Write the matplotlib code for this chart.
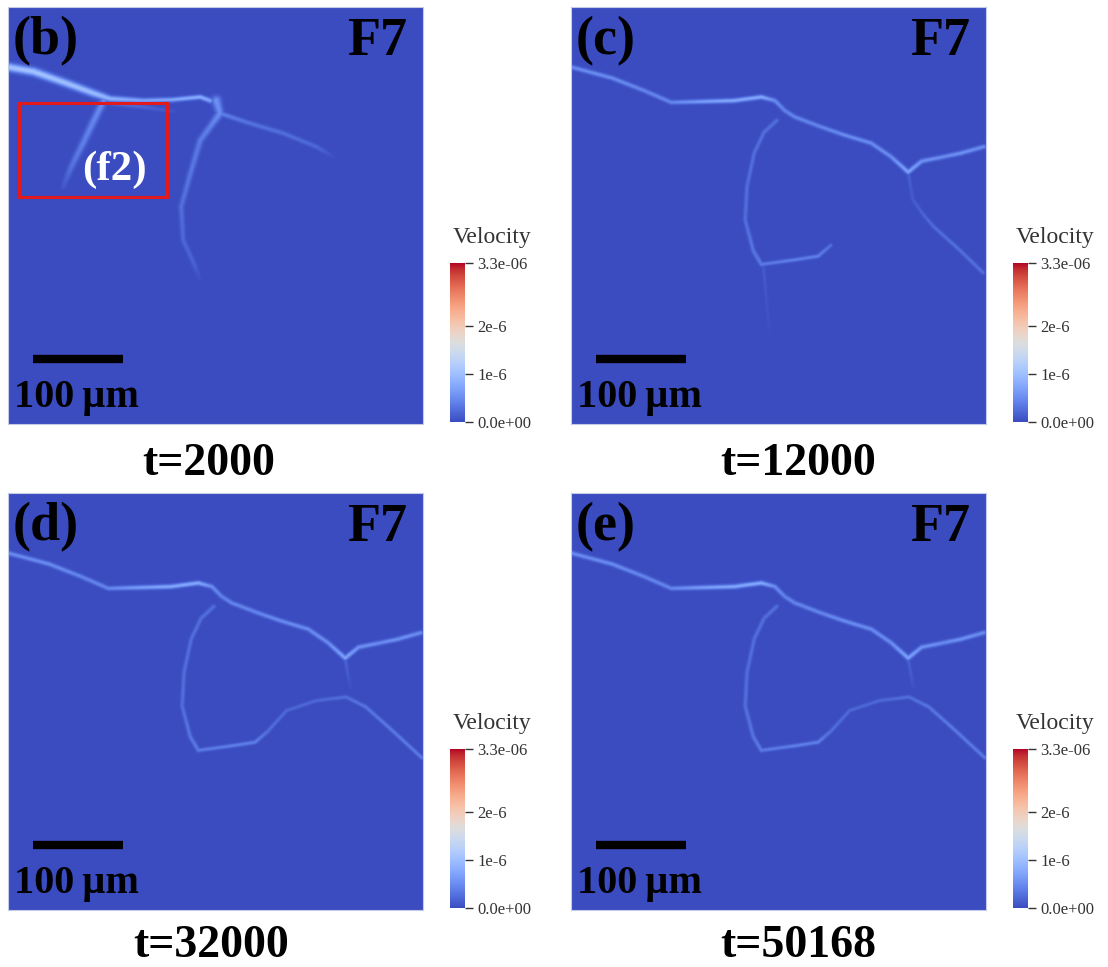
import numpy as np
import matplotlib.pyplot as plt
from matplotlib.patches import Rectangle

# ---- data ------------------------------------------------------------------
L = 460.0                       # domain size (um)
vmax = 3.3e-6                   # colour range upper limit
times = ['t=2000', 't=12000', 't=32000', 't=50168']
panel_tags = ['(b)', '(c)', '(d)', '(e)']
cbar_ticks = [0.0, 1e-6, 2e-6, 3.3e-6]
cbar_labels = ['0.0e+00', '1e-6', '2e-6', '3.3e-06']

# crack paths: x (um), y (um, from top), peak velocity (1e-6), half width (um)
# t = 2000
b_main_x = [0, 28, 65, 95, 113, 150, 183, 213, 224]
b_main_y = [66, 71, 84, 95, 101, 103, 102, 99, 103]
b_main_v = [1.05, 1.05, 1.0, 0.95, 0.85, 0.7, 0.75, 0.8, 0.7]
b_main_w = [4.2, 4.2, 4.0, 3.8, 3.2, 2.6, 2.4, 2.4, 2.6]

b_left_x = [106, 95, 83, 70, 61]
b_left_y = [103, 125, 150, 176, 198]
b_left_v = [0.5, 0.45, 0.4, 0.3, 0.1]
b_left_w = [4.0, 4.0, 3.8, 3.5, 3.2]

b_under_x = [115, 150, 185]
b_under_y = [106, 110, 115]
b_under_v = [0.25, 0.2, 0.05]
b_under_w = [2.5, 2.5, 2.5]

b_down_x = [231, 235, 224, 213, 202, 192, 194, 206, 213]
b_down_y = [103, 117, 132, 147, 184, 220, 257, 283, 301]
b_down_v = [0.55, 0.5, 0.42, 0.36, 0.32, 0.27, 0.22, 0.17, 0.04]
b_down_w = [5.0, 4.0, 3.5, 3.5, 3.2, 3.0, 2.8, 2.8, 2.8]

b_right_x = [235, 268, 305, 342, 361]
b_right_y = [117, 128, 139, 154, 165]
b_right_v = [0.4, 0.3, 0.27, 0.22, 0.04]
b_right_w = [2.6, 2.6, 2.6, 2.6, 2.6]

# later times: shared network
main_x = [0, 45, 81, 111, 148, 181, 211, 226, 237, 248, 277, 303, 333, 355, 374, 389, 414, 433, 458]
main_y = [66, 78, 92, 105, 104, 103, 99, 103, 114, 121, 132, 141, 150, 165, 182, 170, 165, 161, 154]
main_v = [0.5, 0.5, 0.45, 0.45, 0.65, 0.75, 0.75, 0.5, 0.42, 0.45, 0.45, 0.5, 0.5, 0.5, 0.7, 0.55, 0.5, 0.55, 0.5]
main_w = [2.4] * 19

loop_x = [228, 214, 203, 195, 193, 202, 211]
loop_y = [125, 138, 161, 198, 235, 269, 284]
loop_v = [0.27, 0.27, 0.27, 0.27, 0.27, 0.32, 0.36]
loop_w = [2.3] * 7

base_x = [211, 248, 274, 288]
base_y = [284, 279, 275, 263]
base_v = [0.36, 0.4, 0.4, 0.27]
base_w = [2.1] * 4

drop_x = [374, 377, 380]
drop_y = [182, 200, 215]
drop_v = [0.18, 0.13, 0.04]
drop_w = [2.0] * 3

# t = 12000 only
c_tail_x = [374, 379, 390, 402, 431, 457]
c_tail_y = [182, 212, 228, 242, 268, 293]
c_tail_v = [0.08, 0.13, 0.18, 0.25, 0.28, 0.28]
c_tail_w = [2.1] * 6

c_vert_x = [213, 220]
c_vert_y = [284, 360]
c_vert_v = [0.13, 0.02]
c_vert_w = [2.0, 2.0]

# t = 32000 / 50168
arc_x = [288, 309, 342, 375, 397, 423, 459]
arc_y = [263, 240, 229, 225, 236, 259, 292]
arc_v = [0.27, 0.22, 0.22, 0.27, 0.32, 0.36, 0.36]
arc_w = [2.1] * 7

# ---- helpers ---------------------------------------------------------------
def crack_field(X, Y, paths):
    field = np.zeros_like(X)
    for xs, ys, vs, ws in paths:
        for i in range(len(xs) - 1):
            x0, y0, x1, y1 = xs[i], ys[i], xs[i + 1], ys[i + 1]
            dx, dy = x1 - x0, y1 - y0
            t = np.clip(((X - x0) * dx + (Y - y0) * dy) / (dx * dx + dy * dy), 0, 1)
            d2 = (X - x0 - t * dx) ** 2 + (Y - y0 - t * dy) ** 2
            v = (vs[i] + t * (vs[i + 1] - vs[i])) * 1e-6
            w = ws[i] + t * (ws[i + 1] - ws[i])
            field = np.maximum(field, v * np.exp(-d2 / w ** 2))
    return field


g = np.linspace(0, L, 520)
X, Y = np.meshgrid(g, g)

shared = [(main_x, main_y, main_v, main_w), (loop_x, loop_y, loop_v, loop_w),
          (base_x, base_y, base_v, base_w), (drop_x, drop_y, drop_v, drop_w)]
paths = [
    [(b_main_x, b_main_y, b_main_v, b_main_w), (b_left_x, b_left_y, b_left_v, b_left_w),
     (b_under_x, b_under_y, b_under_v, b_under_w), (b_down_x, b_down_y, b_down_v, b_down_w),
     (b_right_x, b_right_y, b_right_v, b_right_w)],
    shared + [(c_tail_x, c_tail_y, c_tail_v, c_tail_w), (c_vert_x, c_vert_y, c_vert_v, c_vert_w)],
    shared + [(arc_x, arc_y, arc_v, arc_w)],
    shared + [(arc_x, arc_y, arc_v, arc_w)],
]

# ---- figure ----------------------------------------------------------------
W, H = 1108, 967
fig = plt.figure(figsize=(W / 100, H / 100), dpi=100)
bold = dict(family='Liberation Serif', weight='bold')

# pixel layout of each panel: (left, top) of image
origins = [(8, 7), (571, 7), (8, 493), (571, 493)]
cbar_left = [450, 1013, 450, 1013]
title_pos = [(209, 475), (798, 475), (211, 957), (798, 957)]

for k in range(4):
    px, py = origins[k]
    ax = fig.add_axes([px / W, 1 - (py + 417) / H, 415 / W, 417 / H])
    field = crack_field(X, Y, paths[k])
    im = ax.imshow(field, cmap='coolwarm', vmin=0, vmax=vmax,
                   extent=[0, L, L, 0], interpolation='bilinear', aspect='auto')
    ax.set_xlim(0, L)
    ax.set_ylim(L, 0)
    ax.set_xticks([])
    ax.set_yticks([])
    for s in ax.spines.values():
        s.set_color('#c5cbe6')
        s.set_linewidth(0.8)

    ax.text(0.012, 0.886, panel_tags[k], transform=ax.transAxes, fontsize=39,
            ha='left', va='baseline', color='black', **bold)
    ax.text(0.962, 0.886, 'F7', transform=ax.transAxes, fontsize=39,
            ha='right', va='baseline', color='black', **bold)

    # scale bar
    ax.plot([27.7, 127.7], [388, 388], color='black', lw=6, solid_capstyle='butt')
    ax.text(0.014, 0.040, '100\u2009\u00b5m', transform=ax.transAxes, fontsize=29,
            ha='left', va='baseline', color='black', **bold)

    if k == 0:
        ax.add_patch(Rectangle((12, 106), 164, 104, fill=False,
                               edgecolor='#e31a1c', lw=2.2))
        ax.text(0.178, 0.585, '(f2)', transform=ax.transAxes, fontsize=31,
                ha='left', va='baseline', color='white', **bold)

    # colour bar
    cb_bottom = py + 415
    cax = fig.add_axes([cbar_left[k] / W, 1 - cb_bottom / H, 15 / W, 159 / H])
    cb = fig.colorbar(im, cax=cax, ticks=cbar_ticks)
    cb.set_ticklabels(cbar_labels)
    cb.outline.set_visible(False)
    cax.tick_params(length=6, width=1.0, color='#333333', labelsize=12,
                    labelcolor='#333333', pad=3)
    for lab in cax.get_yticklabels():
        lab.set_family('Liberation Serif')
    fig.text((cbar_left[k] + 42) / W, 1 - (py + 230) / H, 'Velocity',
             ha='center', va='center', fontsize=17, color='#333333',
             family='Liberation Serif')

    tx, ty = title_pos[k]
    fig.text(tx / W, 1 - ty / H, times[k], ha='center', va='baseline',
             fontsize=33, color='black', **bold)

fig.savefig('out.png', dpi=100)
